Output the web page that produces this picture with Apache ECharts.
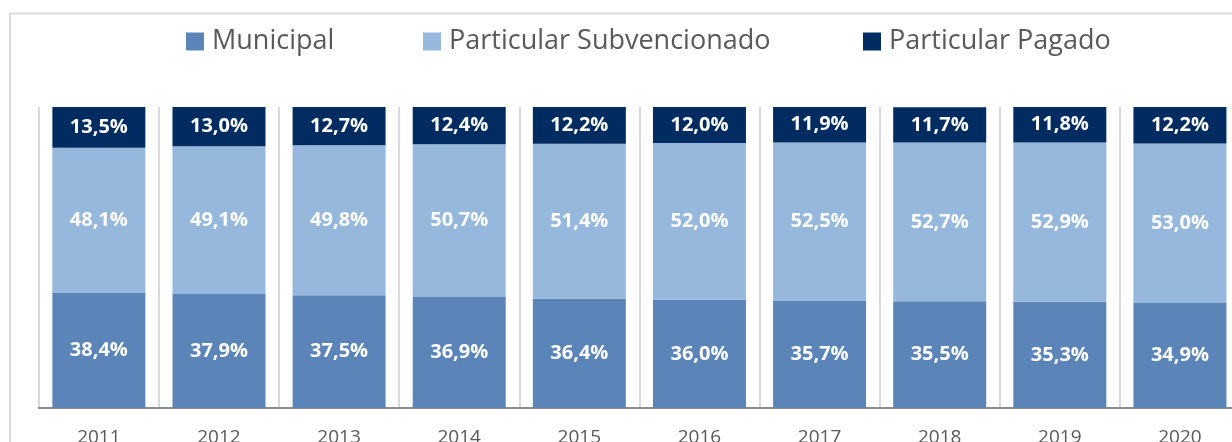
<!DOCTYPE html>
<html>
<head>
<meta charset="utf-8">
<script src="https://cdn.jsdelivr.net/npm/echarts@6/dist/echarts.min.js"></script>
<style>
html,body{margin:0;padding:0;background:#fff;}
#c{width:1232px;height:442px;}
</style>
</head>
<body>
<div id="c"></div>
<script>
const categories = ['2011','2012','2013','2014','2015','2016','2017','2018','2019','2020'];
const municipal = [38.4, 37.9, 37.5, 36.9, 36.4, 36.0, 35.7, 35.5, 35.3, 34.9];
const subvencionado = [48.1, 49.1, 49.8, 50.7, 51.4, 52.0, 52.5, 52.7, 52.9, 53.0];
const pagado = [13.5, 13.0, 12.7, 12.4, 12.2, 12.0, 11.9, 11.7, 11.8, 12.2];
const seriesNames = ['Municipal', 'Particular Subvencionado', 'Particular Pagado'];
const colors = ['#5b85b9', '#95b8dc', '#002c61'];
const legendLefts = [186, 423, 863];

const chart = echarts.init(document.getElementById('c'), null, {renderer: 'canvas'});
const fmt = p => p.value.toFixed(1).replace('.', ',') + '%';
const mk = (name, data, color) => ({
  name: name,
  type: 'bar',
  stack: 'total',
  data: data,
  barWidth: 93,
  itemStyle: {color: color},
  label: {
    show: true,
    position: 'inside',
    formatter: fmt,
    color: '#ffffff',
    fontFamily: 'Open Sans',
    fontWeight: 'bold',
    fontSize: 20
  }
});

const legends = seriesNames.map((n, i) => ({
  left: legendLefts[i],
  top: 28,
  padding: 0,
  icon: 'rect',
  itemWidth: 18,
  itemHeight: 18,
  data: [n],
  textStyle: {
    fontFamily: 'Open Sans',
    fontSize: 27,
    lineHeight: 18,
    color: '#595959',
    padding: [0, 0, 0, 3]
  }
}));

chart.setOption({
  animation: false,
  color: colors,
  graphic: [{
    type: 'rect',
    shape: {x: 10, y: 13.5, width: 1400, height: 600},
    style: {fill: 'none', stroke: '#d9d9d9', lineWidth: 2},
    silent: true,
    z: 0
  }],
  legend: legends,
  grid: {left: 38.8, top: 107, width: 1201.2, height: 301, containLabel: false, outerBoundsMode: 'none'},
  xAxis: {
    type: 'category',
    data: categories,
    axisLine: {show: true, lineStyle: {color: '#8c8c8c', width: 2}},
    axisTick: {show: false},
    splitLine: {show: true, interval: 0, lineStyle: {color: '#d9d9d9', width: 2}},
    axisLabel: {
      fontFamily: 'Open Sans',
      fontSize: 19,
      color: '#595959',
      margin: 20
    }
  },
  yAxis: {
    type: 'value',
    min: 0,
    max: 100,
    show: false,
    splitLine: {show: false}
  },
  series: [
    mk(seriesNames[0], municipal, colors[0]),
    mk(seriesNames[1], subvencionado, colors[1]),
    mk(seriesNames[2], pagado, colors[2])
  ]
});
</script>
</body>
</html>
